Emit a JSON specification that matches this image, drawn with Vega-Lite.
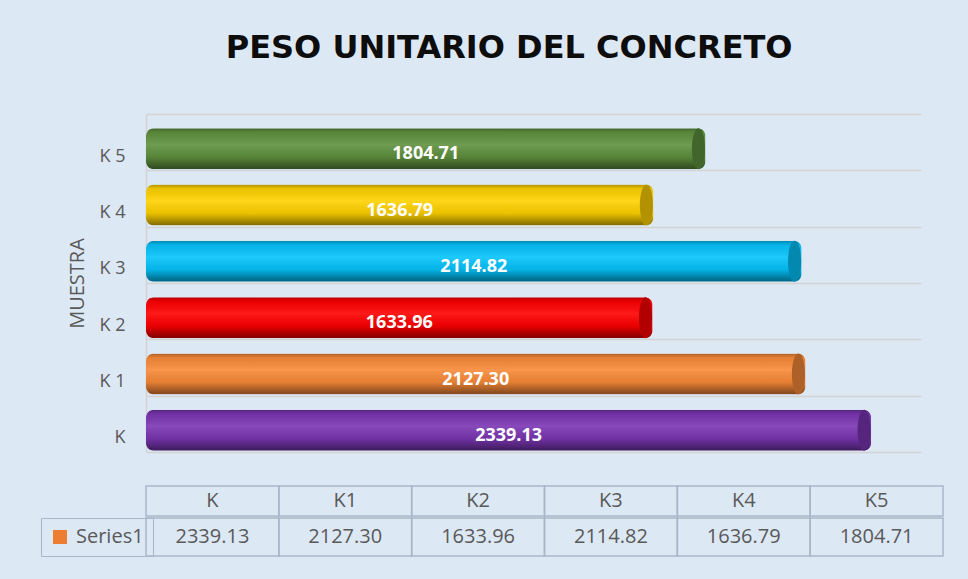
{
  "$schema": "https://vega.github.io/schema/vega-lite/v6.json",
  "background": "#dde8f5",
  "padding": {"left": 40, "top": 32, "right": 24, "bottom": 24},
  "config": {"view": {"stroke": null}, "font": "Open Sans"},
  "datasets": {
    "muestras": [
      {"muestra": "K", "etiqueta": "K", "valor": 2339.13, "serie": "Series1"},
      {"muestra": "K1", "etiqueta": "K 1", "valor": 2127.30, "serie": "Series1"},
      {"muestra": "K2", "etiqueta": "K 2", "valor": 1633.96, "serie": "Series1"},
      {"muestra": "K3", "etiqueta": "K 3", "valor": 2114.82, "serie": "Series1"},
      {"muestra": "K4", "etiqueta": "K 4", "valor": 1636.79, "serie": "Series1"},
      {"muestra": "K5", "etiqueta": "K 5", "valor": 1804.71, "serie": "Series1"}
    ]
  },
  "title": {
    "text": "PESO UNITARIO DEL CONCRETO",
    "font": "DejaVu Sans",
    "fontSize": 32,
    "fontWeight": "bold",
    "color": "#0d0d0d",
    "anchor": "middle",
    "dx": 17,
    "offset": 40
  },
  "spacing": 33,
  "resolve": {"scale": {"color": "independent"}, "legend": {"color": "independent"}},
  "vconcat": [
    {
      "width": 775,
      "height": 338,
      "data": {"name": "muestras"},
      "encoding": {
        "y": {
          "field": "etiqueta",
          "type": "nominal",
          "sort": ["K 5", "K 4", "K 3", "K 2", "K 1", "K"],
          "scale": {"paddingInner": 0, "paddingOuter": 0},
          "axis": {
            "title": "MUESTRA",
            "titleFont": "Open Sans",
            "titleFontSize": 20,
            "titleFontWeight": "normal",
            "titleColor": "#595959",
            "titlePadding": 12,
            "labelFont": "Open Sans",
            "labelFontSize": 18,
            "labelColor": "#595959",
            "labelPadding": 21,
            "labelOffset": 14,
            "ticks": false,
            "domain": true,
            "domainColor": "#d3d3d3",
            "domainWidth": 1.5,
            "grid": true,
            "gridColor": "#d3d3d3",
            "gridWidth": 1.5,
            "tickBand": "extent"
          }
        }
      },
      "layer": [
        {
          "mark": {"type": "bar", "height": 41, "yOffset": 6.5, "cornerRadius": 8},
          "encoding": {
            "x": {"field": "valor", "type": "quantitative", "scale": {"domain": [0, 2500]}, "axis": null},
            "color": {
              "field": "muestra",
              "type": "nominal",
              "scale": {
                "domain": ["K", "K1", "K2", "K3", "K4", "K5"],
                "range": ["#7b36b3", "#f88a38", "#ff0000", "#05c3fb", "#ffd200", "#5f913e"]
              },
              "legend": null
            }
          }
        },
        {
          "mark": {
            "type": "bar",
            "height": 41,
            "yOffset": 6.5,
            "cornerRadius": 8,
            "fill": {
              "gradient": "linear",
              "x1": 0, "y1": 0, "x2": 0, "y2": 1,
              "stops": [
                {"offset": 0, "color": "rgba(0,0,0,0.30)"},
                {"offset": 0.1, "color": "rgba(0,0,0,0.08)"},
                {"offset": 0.4, "color": "rgba(255,255,255,0.10)"},
                {"offset": 0.7, "color": "rgba(0,0,0,0.08)"},
                {"offset": 1, "color": "rgba(0,0,0,0.50)"}
              ]
            }
          },
          "encoding": {
            "x": {"field": "valor", "type": "quantitative", "scale": {"domain": [0, 2500]}, "axis": null}
          }
        },
        {
          "mark": {
            "type": "point",
            "shape": "M-0.32,0A0.32,1,0,1,0,0.32,0A0.32,1,0,1,0,-0.32,0Z",
            "size": 1681,
            "filled": true,
            "opacity": 1,
            "strokeWidth": 0,
            "xOffset": -7,
            "yOffset": 6.5
          },
          "encoding": {
            "x": {"field": "valor", "type": "quantitative", "scale": {"domain": [0, 2500]}, "axis": null},
            "color": {"field": "muestra", "type": "nominal", "legend": null}
          }
        },
        {
          "mark": {
            "type": "point",
            "shape": "M-0.32,0A0.32,1,0,1,0,0.32,0A0.32,1,0,1,0,-0.32,0Z",
            "size": 1681,
            "filled": true,
            "color": "#000000",
            "opacity": 0.3,
            "strokeWidth": 0,
            "xOffset": -7,
            "yOffset": 6.5
          },
          "encoding": {
            "x": {"field": "valor", "type": "quantitative", "scale": {"domain": [0, 2500]}, "axis": null}
          }
        },
        {
          "mark": {
            "type": "text",
            "font": "Open Sans",
            "fontSize": 18,
            "fontWeight": "bold",
            "color": "#ffffff",
            "align": "center",
            "baseline": "middle",
            "dy": 12
          },
          "encoding": {
            "x": {"field": "valor", "type": "quantitative", "scale": {"domain": [0, 5000]}, "axis": null},
            "text": {"field": "valor", "type": "quantitative", "format": ".2f"}
          }
        }
      ],
      "resolve": {"scale": {"x": "independent"}}
    },
    {
      "spacing": 0,
      "resolve": {"scale": {"color": "independent"}, "legend": {"color": "independent"}},
      "vconcat": [
        {
          "width": 797,
          "height": 30,
          "data": {"name": "muestras"},
          "encoding": {
            "x": {
              "field": "muestra",
              "type": "nominal",
              "sort": ["K", "K1", "K2", "K3", "K4", "K5"],
              "scale": {"paddingInner": 0, "paddingOuter": 0},
              "axis": null
            }
          },
          "layer": [
            {"mark": {"type": "rect", "fill": "transparent", "stroke": "#a9b6c8", "strokeWidth": 1.5}},
            {
              "mark": {"type": "text", "font": "Open Sans", "fontSize": 20, "color": "#595959", "baseline": "middle"},
              "encoding": {"text": {"field": "muestra", "type": "nominal"}}
            }
          ]
        },
        {
          "width": 797,
          "height": 38,
          "data": {"name": "muestras"},
          "encoding": {
            "x": {
              "field": "muestra",
              "type": "nominal",
              "sort": ["K", "K1", "K2", "K3", "K4", "K5"],
              "scale": {"paddingInner": 0, "paddingOuter": 0},
              "axis": null
            }
          },
          "layer": [
            {"mark": {"type": "rect", "fill": "transparent", "stroke": "#a9b6c8", "strokeWidth": 1.5}},
            {
              "mark": {"type": "text", "font": "Open Sans", "fontSize": 20, "color": "#595959", "baseline": "middle"},
              "encoding": {"text": {"field": "valor", "type": "quantitative", "format": ".2f"}}
            },
            {
              "mark": {"type": "point", "shape": "square", "filled": true, "opacity": 0},
              "encoding": {
                "color": {
                  "field": "serie",
                  "type": "nominal",
                  "scale": {"range": ["#ed7d31"]},
                  "legend": {
                    "orient": "none",
                    "legendX": -105,
                    "legendY": 0,
                    "title": null,
                    "symbolType": "square",
                    "symbolSize": 196,
                    "symbolStrokeWidth": 0,
                    "symbolOpacity": 1,
                    "labelFont": "Open Sans",
                    "labelFontSize": 20,
                    "labelColor": "#595959",
                    "labelOffset": 6,
                    "labelLimit": 200,
                    "padding": 9,
                    "strokeColor": "#a9b6c8"
                  }
                }
              }
            }
          ]
        }
      ]
    }
  ]
}
